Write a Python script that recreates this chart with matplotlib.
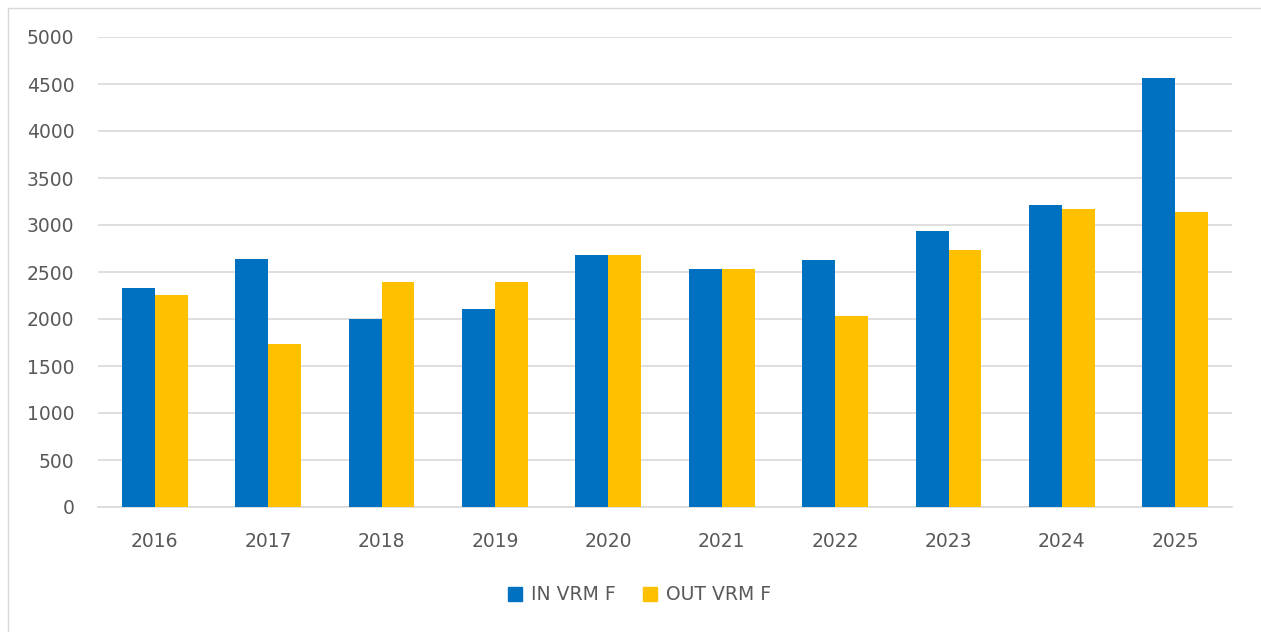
import numpy as np
import matplotlib.pyplot as plt
from matplotlib.lines import Line2D

years = ["2016", "2017", "2018", "2019", "2020", "2021", "2022", "2023", "2024", "2025"]
in_vrm = [2327, 2641, 1997, 2103, 2677, 2528, 2624, 2936, 3213, 4560]
out_vrm = [2252, 1734, 2397, 2397, 2677, 2528, 2032, 2734, 3173, 3138]

blue = "#0070C0"
yellow = "#FFC000"
grey = "#595959"

plt.rcParams['font.family'] = ['DejaVu Sans']

fig = plt.figure(figsize=(12.61, 6.32), dpi=100)
ax = fig.add_axes([98 / 1261, 1 - 507 / 632, (1232 - 98) / 1261, (507 - 37) / 632])

x = np.arange(len(years))
w = 0.29
ax.bar(x - w / 2, in_vrm, w, color=blue, label="IN VRM F", zorder=3)
ax.bar(x + w / 2, out_vrm, w, color=yellow, label="OUT VRM F", zorder=3)

ax.set_xlim(-0.5, len(years) - 0.5)
ax.set_ylim(0, 5000)
ax.set_yticks(np.arange(0, 5001, 500))
ax.set_xticks(x)
ax.set_xticklabels(years)
ax.grid(axis="y", color="#D9D9D9", linewidth=1.2, zorder=0)
for s in ["top", "right", "left"]:
    ax.spines[s].set_visible(False)
ax.spines["bottom"].set_color("#D9D9D9")
ax.spines["bottom"].set_linewidth(1.2)
ax.tick_params(axis="both", length=0, labelsize=13.5, labelcolor=grey)
ax.tick_params(axis="y", pad=17)
ax.tick_params(axis="x", pad=18)

handles = [Line2D([], [], marker="s", linestyle="", markersize=10.5, color=blue),
           Line2D([], [], marker="s", linestyle="", markersize=10.5, color=yellow)]
fig.legend(handles, ["IN VRM F", "OUT VRM F"], loc="center", bbox_to_anchor=(639 / 1261, 1 - 595 / 632),
           ncol=2, frameon=False, fontsize=13.5, labelcolor=grey, handlelength=0.9,
           handletextpad=0.4, columnspacing=1.4)

# light frame around the chart area
fig.add_artist(Line2D([8 / 1261, 8 / 1261], [0, 1 - 8 / 632], color="#D9D9D9", linewidth=1))
fig.add_artist(Line2D([8 / 1261, 1], [1 - 8 / 632, 1 - 8 / 632], color="#D9D9D9", linewidth=1))

fig.savefig("out.png", dpi=100)
